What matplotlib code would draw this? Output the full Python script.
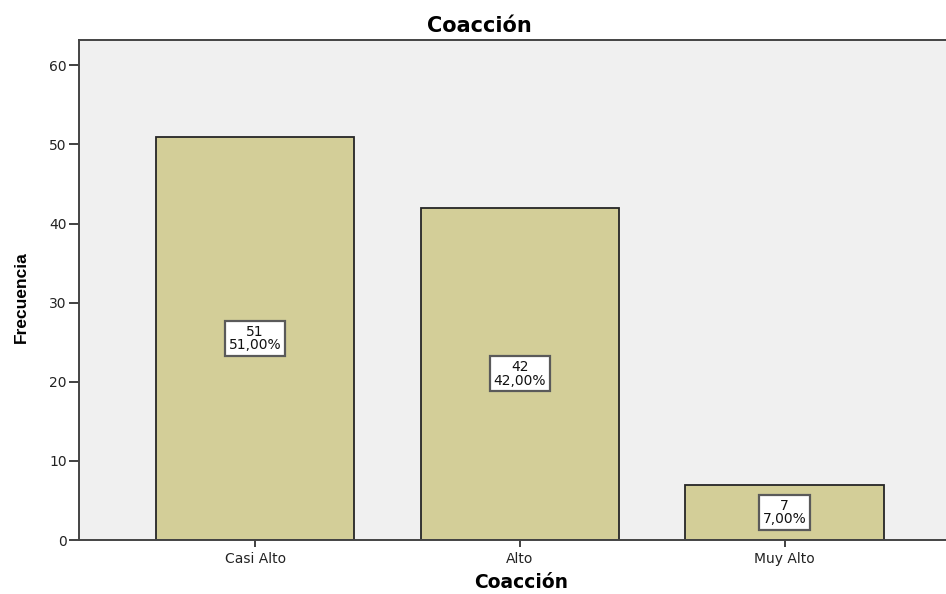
import matplotlib
matplotlib.use("Agg")
from matplotlib import pyplot as plt

categories = ["Casi Alto", "Alto", "Muy Alto"]
counts = [51, 42, 7]
percents = ["51,00%", "42,00%", "7,00%"]

plt.rcParams['font.family'] = ['DejaVu Sans']

W, H = 946, 594
fig = plt.figure(figsize=(W / 100, H / 100), dpi=100)
ax = fig.add_axes([78.5 / W, 54 / H, (W - 78.5) / W, 500 / H])
ax.set_facecolor("#f0f0f0")

x = list(range(len(categories)))
ax.bar(x, counts, width=0.75, color="#d3ce98", edgecolor="#262626", linewidth=1.3, zorder=2)

# count + percent box in the middle of each bar
for xi, c, p in zip(x, counts, percents):
    ax.text(xi, c / 2, f"{c}\n{p}", ha="center", va="center", fontsize=10,
            linespacing=0.95, zorder=3, color="#111111",
            bbox=dict(boxstyle="square,pad=0.28", facecolor="white", edgecolor="#5a5a5a", linewidth=1.6))

ax.set_xlim(-0.667, 2.61)
ax.set_ylim(0, 63.2)
ax.set_yticks([0, 10, 20, 30, 40, 50, 60])
ax.set_xticks(x)
ax.set_xticklabels(categories)
ax.tick_params(axis="both", labelsize=10, color="#333333", labelcolor="#222222", width=1.3)
ax.tick_params(axis="y", length=7.5, pad=1)
ax.tick_params(axis="x", length=5, pad=3.5)

for side in ["left", "bottom", "top"]:
    ax.spines[side].set_color("#444444")
    ax.spines[side].set_linewidth(1.4)
ax.spines["right"].set_visible(False)

fig.text(479 / W, 1 - 32 / H, "Coacción", ha="center", va="baseline",
         fontsize=15, fontweight="bold")
fig.text(521 / W, 1 - 588 / H, "Coacción", ha="center", va="baseline",
         fontsize=13.5, fontweight="bold")
fig.text(21 / W, 1 - 297 / H, "Frecuencia", ha="center", va="center", rotation=90,
         fontsize=12.5, fontweight="bold", family=["Liberation Sans", "DejaVu Sans"])

fig.savefig("out.png", dpi=100)
